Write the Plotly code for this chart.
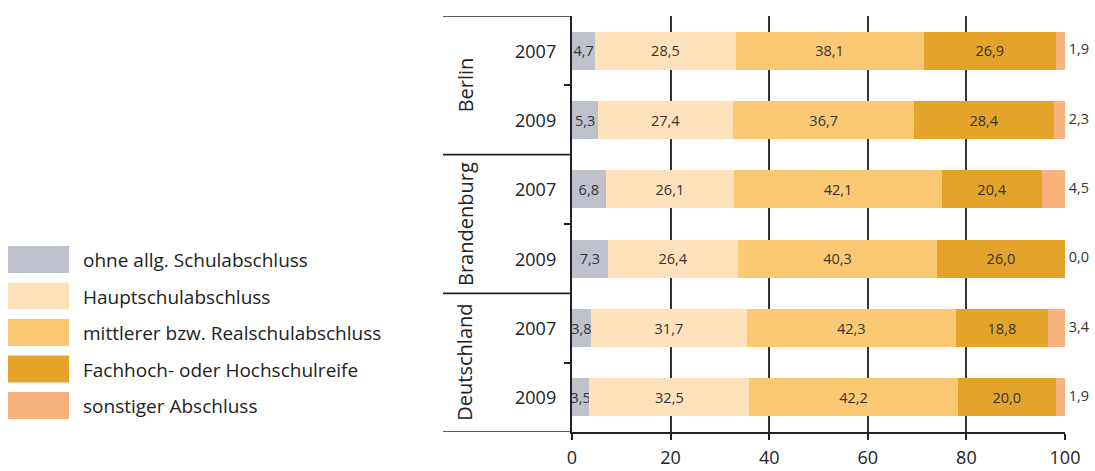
import plotly.graph_objects as go

# ---- data ----
regions = ["Berlin", "Brandenburg", "Deutschland"]
years = ["2007", "2009"]
series_names = [
    "ohne allg. Schulabschluss",
    "Hauptschulabschluss",
    "mittlerer bzw. Realschulabschluss",
    "Fachhoch- oder Hochschulreife",
    "sonstiger Abschluss",
]
# rows: Berlin 2007, Berlin 2009, Brandenburg 2007, Brandenburg 2009, Deutschland 2007, Deutschland 2009
ohne = [4.7, 5.3, 6.8, 7.3, 3.8, 3.5]
haupt = [28.5, 27.4, 26.1, 26.4, 31.7, 32.5]
mittlerer = [38.1, 36.7, 42.1, 40.3, 42.3, 42.2]
fachhoch = [26.9, 28.4, 20.4, 26.0, 18.8, 20.0]
sonstiger = [1.9, 2.3, 4.5, 0.0, 3.4, 1.9]
x_ticks = [0, 20, 40, 60, 80, 100]

colors = ["#BFC2CC", "#FEE2BC", "#FBC974", "#E4A42B", "#F6B17D"]
series = [ohne, haupt, mittlerer, fachhoch, sonstiger]

ypos = [i + 0.5 for i in range(len(ohne))]

FONT = "Open Sans"
W, H = 1095, 471
L, R, T, B = 572, 30, 16, 39
PW = W - L - R
PH = H - T - B


def px_x(px):
    return (px - L) / PW


def px_y(py):
    return (H - B - py) / PH


fig = go.Figure()
for k, (name, vals, col) in enumerate(zip(series_names, series, colors)):
    is_last = k == len(series) - 1
    fig.add_trace(go.Bar(
        x=vals, y=ypos, orientation="h", name=name,
        marker=dict(color=col, line=dict(width=0)),
        width=0.55,
        text=None if is_last else vals,
        texttemplate=None if is_last else "%{x:.1f}",
        textposition="none" if is_last else "inside",
        insidetextanchor="middle",
        textangle=0,
        textfont=dict(size=14.5, color="#333333", family=FONT),
        showlegend=False, hoverinfo="skip",
    ))

fig.add_trace(go.Scatter(
    x=[x_ticks[-1]] * len(sonstiger), y=ypos, mode="text",
    text=["\u00a0" + f"{v:.1f}".replace(".", ",") for v in sonstiger],
    textposition="middle right",
    textfont=dict(size=14.5, color="#333333", family=FONT),
    cliponaxis=False, showlegend=False, hoverinfo="skip",
))

shapes = []
annotations = []
# group separators on the left
for yb in [0, 2, 4, 6]:
    shapes.append(dict(type="line", xref="paper", yref="y",
                       x0=px_x(443), x1=0, y0=yb, y1=yb,
                       line=dict(color="#222222", width=1.6)))
# year labels
for i, yp in enumerate(ypos):
    annotations.append(dict(x=px_x(558), y=yp, xref="paper", yref="y",
                            text=years[i % 2], showarrow=False,
                            xanchor="right", yanchor="middle",
                            font=dict(size=18, color="#222222", family=FONT)))
# region labels (rotated)
for j, reg in enumerate(regions):
    annotations.append(dict(x=px_x(465), y=2 * j + 1, xref="paper", yref="y",
                            text=reg, showarrow=False, textangle=-90,
                            xanchor="center", yanchor="middle",
                            font=dict(size=20, color="#222222", family=FONT)))
# legend (manual)
leg_top = [246, 282.5, 319, 355.5, 392]
for name, col, yt in zip(series_names, colors, leg_top):
    shapes.append(dict(type="rect", xref="paper", yref="paper",
                       x0=px_x(8), x1=px_x(69), y0=px_y(yt + 27), y1=px_y(yt),
                       fillcolor=col, line=dict(width=0)))
    annotations.append(dict(x=px_x(81), y=px_y(yt + 14), xref="paper", yref="paper",
                            text=name, showarrow=False, xanchor="left", yanchor="middle",
                            font=dict(size=19, color="#222222", family=FONT)))

fig.update_layout(
    barmode="stack",
    width=W, height=H,
    margin=dict(l=L, r=R, t=T, b=B, pad=0, autoexpand=False),
    paper_bgcolor="white", plot_bgcolor="white",
    separators=",.",
    uniformtext=dict(minsize=14.5, mode="show"),
    shapes=shapes, annotations=annotations,
    font=dict(family=FONT, color="#222222"),
    hovermode=False,
)
fig.update_xaxes(
    range=[0, 100], tickvals=x_ticks, ticktext=[str(t) for t in x_ticks],
    showgrid=True, gridcolor="#333333", gridwidth=1.5,
    showline=True, linecolor="#222222", linewidth=1.6,
    ticks="outside", ticklen=6, tickwidth=1.5, tickcolor="#222222",
    tickfont=dict(size=18, color="#222222", family=FONT),
    ticklabelstandoff=3, automargin=False,
    zeroline=False, fixedrange=True,
)
fig.update_yaxes(
    range=[6, 0], tickvals=[1, 3, 5], showticklabels=False,
    ticks="outside", ticklen=6, tickwidth=1.5, tickcolor="#222222",
    showline=True, linecolor="#222222", linewidth=2.2,
    showgrid=False, zeroline=False, fixedrange=True, automargin=False,
)

fig.write_html(
    "out.html",
    config={"displayModeBar": False},
    post_script="document.body.style.margin='0';document.body.style.overflow='hidden';",
)
